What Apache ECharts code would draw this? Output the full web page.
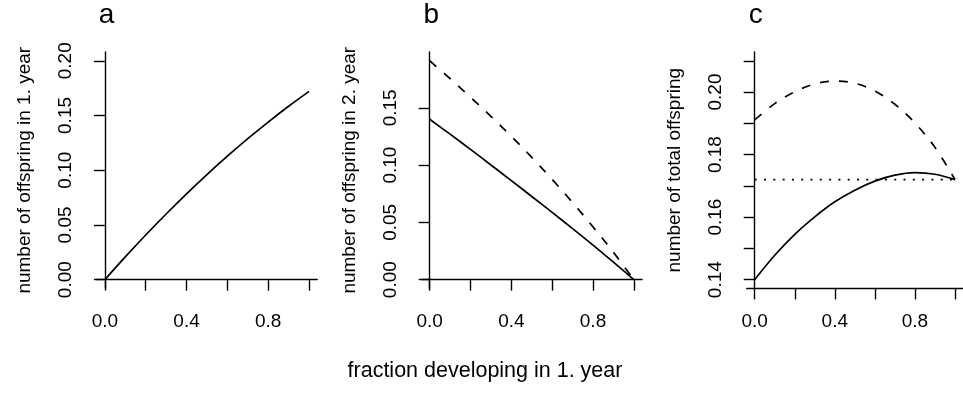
<!DOCTYPE html>
<html>
<head>
<meta charset="utf-8">
<script src="https://cdn.jsdelivr.net/npm/echarts@6/dist/echarts.min.js"></script>
<style>
  html, body { margin: 0; padding: 0; background: #fff; }
  #chart { width: 963px; height: 408px; }
</style>
</head>
<body>
<div id="chart"></div>
<script>
// Fraction of individuals that develop in their first year
const fraction = [0, 0.1, 0.2, 0.3, 0.4, 0.5, 0.6, 0.7, 0.8, 0.9, 1.0];

// Panel a: offspring produced in the first year
const offspringYear1 = [0, 0.0208, 0.0408, 0.060, 0.0784, 0.096, 0.1128, 0.1288, 0.144, 0.1584, 0.172];

// Panel b: offspring produced in the second year (solid and dashed scenarios)
const offspringYear2 = [0.140, 0.127, 0.1137, 0.1001, 0.0865, 0.0726, 0.0587, 0.0446, 0.0302, 0.0153, 0];
const offspringYear2High = [0.1911, 0.1755, 0.1593, 0.1426, 0.1251, 0.1068, 0.0875, 0.0673, 0.0461, 0.0239, 0];

// Panel c: total offspring (solid and dashed scenarios) and the reference level
const offspringTotal = [0.140, 0.1478, 0.1545, 0.1601, 0.1649, 0.1686, 0.1715, 0.1734, 0.1742, 0.1737, 0.172];
const offspringTotalHigh = [0.1911, 0.1963, 0.2001, 0.2026, 0.2035, 0.2028, 0.2003, 0.1961, 0.1901, 0.1823, 0.172];
const referenceTotal = 0.172;

// Tick positions and labels
const xTicks = [0, 0.2, 0.4, 0.6, 0.8, 1.0];
const xTickLabels = [0, 0.4, 0.8];
const yTicksA = [0, 0.05, 0.10, 0.15, 0.20];
const yTicksB = [0, 0.05, 0.10, 0.15];
const yTicksC = [0.14, 0.15, 0.16, 0.17, 0.18, 0.19, 0.20, 0.21];
const yTickLabelsC = [0.14, 0.16, 0.18, 0.20];

const panelLetters = ['a', 'b', 'c'];
const yTitles = ['number of offspring in 1. year', 'number of offspring in 2. year', 'number of total offspring'];
const xTitle = 'fraction developing in 1. year';

const FONT = "'Liberation Sans', Arial, Helvetica, sans-serif";
const INK = '#000';
const TICK_FS = 19;

const pair = (xs, ys) => xs.map((x, i) => [x, ys[i]]);

// plot regions (R style: data range padded by 4% on each side)
const panelLeft = [96.7, 421.5, 746.7];
const panelTop = 52;
const panelW = 220.5;
const panelH = 236.4;

function padRange(lo, hi) {
  const d = (hi - lo) * 0.04;
  return [lo - d, hi + d];
}
const yRanges = [padRange(0, 0.2), padRange(0, 0.1911), padRange(0.14, 0.21)];
const yTickSets = [yTicksA, yTicksB, yTicksC];
const yLabelSets = [yTicksA, yTicksB, yTickLabelsC];

const axisLine = { show: true, lineStyle: { color: INK, width: 1.4 } };

const grids = panelLeft.map(l => ({ left: l, top: panelTop, width: panelW, height: panelH }));

const xAxes = panelLeft.map((_, i) => ({
  type: 'value', gridIndex: i, min: -0.04, max: 1.04,
  axisLine,
  axisTick: { show: true, inside: false, length: 11, customValues: xTicks, lineStyle: { color: INK, width: 1.4 } },
  axisLabel: { show: true, customValues: xTickLabels, formatter: v => v.toFixed(1), margin: 24,
    color: INK, fontSize: TICK_FS, fontFamily: FONT },
  splitLine: { show: false }
}));

const yAxes = panelLeft.map((_, i) => ({
  type: 'value', gridIndex: i, min: yRanges[i][0], max: yRanges[i][1],
  axisLine,
  axisTick: { show: true, inside: false, length: 11, customValues: yTickSets[i], lineStyle: { color: INK, width: 1.4 } },
  axisLabel: { show: true, customValues: yLabelSets[i], formatter: v => v.toFixed(2), rotate: 90, margin: 21,
    color: INK, fontSize: TICK_FS, fontFamily: FONT },
  splitLine: { show: false },
  name: yTitles[i], nameLocation: 'middle', nameRotate: 90, nameGap: 62,
  nameTextStyle: { color: INK, fontSize: TICK_FS, fontFamily: FONT }
}));

function curve(idx, data, type) {
  const dash = type === 'dashed' ? [9, 10] : type === 'dotted' ? [2, 7.3] : 'solid';
  return {
    type: 'line', xAxisIndex: idx, yAxisIndex: idx, data,
    showSymbol: false, smooth: type === 'dotted' ? false : 0.35, silent: true,
    lineStyle: { color: INK, width: 1.7, type: dash }
  };
}

const series = [
  curve(0, pair(fraction, offspringYear1), 'solid'),
  curve(1, pair(fraction, offspringYear2), 'solid'),
  curve(1, pair(fraction, offspringYear2High), 'dashed'),
  curve(2, [[0, referenceTotal], [1, referenceTotal]], 'dotted'),
  curve(2, pair(fraction, offspringTotal), 'solid'),
  curve(2, pair(fraction, offspringTotalHigh), 'dashed')
];

const titles = panelLetters.map((t, i) => ({
  text: t, left: panelLeft[i] + 2, top: 1, padding: 0,
  textStyle: { color: INK, fontSize: 28, fontWeight: 'normal', fontFamily: FONT }
}));
titles.push({
  text: xTitle, left: 485, top: 360, padding: 0, textAlign: 'center',
  textStyle: { color: INK, fontSize: 21.5, fontWeight: 'normal', fontFamily: FONT }
});

const chart = echarts.init(document.getElementById('chart'), null, { renderer: 'canvas' });
chart.setOption({
  animation: false,
  backgroundColor: '#fff',
  title: titles,
  grid: grids,
  xAxis: xAxes,
  yAxis: yAxes,
  series
});
</script>
</body>
</html>
